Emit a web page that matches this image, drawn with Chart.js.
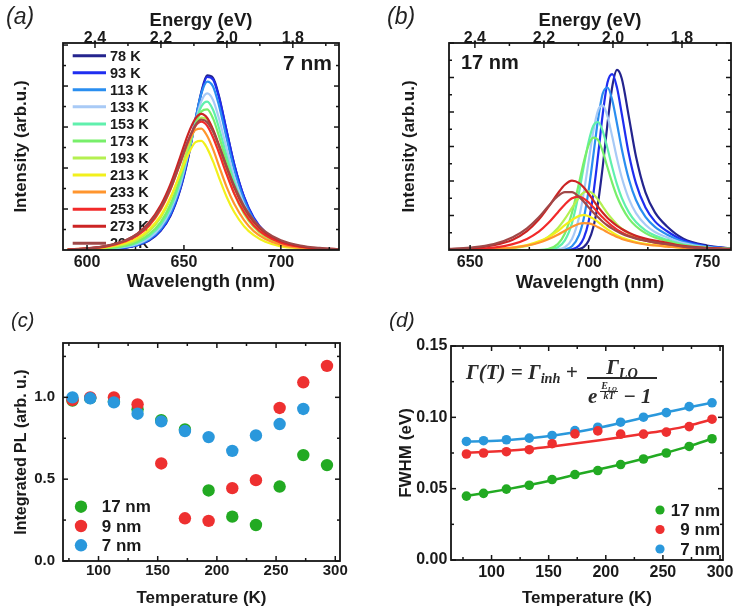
<!DOCTYPE html>
<html><head><meta charset="utf-8">
<script src="https://cdn.jsdelivr.net/npm/chart.js@4.4.1/dist/chart.umd.min.js"></script>
<style>
html,body{margin:0;padding:0;background:#fff;}
body{width:738px;height:616px;position:relative;overflow:hidden;font-family:"Liberation Sans",Arial,sans-serif;}
canvas{position:absolute;}
.pl{position:absolute;font-style:italic;color:#222;line-height:1;white-space:nowrap;}
.ann{position:absolute;font-weight:bold;color:#1a1a1a;line-height:1;white-space:nowrap;}
.fm{position:absolute;font-family:"Liberation Serif","DejaVu Serif",serif;font-weight:bold;font-style:italic;color:#2a2a2a;line-height:1;white-space:nowrap;}
.fm sub{font-size:0.68em;vertical-align:-0.28em;line-height:0;}
</style></head><body>
<canvas id="ca" width="369" height="305" style="left:0;top:0"></canvas>
<canvas id="cb" width="368" height="305" style="left:370px;top:0"></canvas>
<canvas id="cc" width="369" height="306" style="left:0;top:310px"></canvas>
<canvas id="cd" width="368" height="306" style="left:370px;top:310px"></canvas>

<div class="pl" style="left:6px;top:5px;font-size:23px">(a)</div>
<div class="pl" style="left:387px;top:5px;font-size:23px">(b)</div>
<div class="pl" style="left:11px;top:310px;font-size:20px">(c)</div>
<div class="pl" style="left:389px;top:309px;font-size:21px">(d)</div>

<div class="ann" style="left:283px;top:52px;font-size:21px">7 nm</div>
<div class="ann" style="left:461px;top:52px;font-size:20px">17 nm</div>

<div class="fm" style="left:466px;top:361.5px;font-size:21px">Γ(T) = Γ<sub>inh</sub> +</div>
<div class="fm" style="left:587px;top:356.5px;width:70px;text-align:center;font-size:21px">Γ<sub>LO</sub></div>
<div style="position:absolute;left:587px;top:377px;width:70px;height:1.8px;background:#2a2a2a"></div>
<div class="fm" style="left:588px;top:385.5px;font-size:21px">e</div>
<div class="fm" style="left:598px;top:380.5px;width:22px;text-align:center;font-size:10px">E<sub>LO</sub></div>
<div style="position:absolute;left:600px;top:390.5px;width:18px;height:1px;background:#2a2a2a"></div>
<div class="fm" style="left:598px;top:391px;width:22px;text-align:center;font-size:10px">kT</div>
<div class="fm" style="left:623px;top:385.5px;font-size:21px">−&nbsp;1</div>

<script>
// ---------- DATA ----------
const temps = ['78 K','93 K','113 K','133 K','153 K','173 K','193 K','213 K','233 K','253 K','273 K','293 K'];
const tempColors = ['#24248e','#1f2ef0','#2a8ef0','#a8caf6','#60f0ad','#78ef6a','#b4f050','#f2f01c','#ff952e','#f22a2a','#cc2424','#a04848'];

// (a) 7 nm spectra
const wlA = [590,600,610,620,626,632,638,643,648,652,656,659,662,665,668,672,676,681,686,692,700,710,720,730];
const a78  = [0.00,0.01,0.02,0.06,0.12,0.23,0.47,0.83,1.46,2.21,3.19,3.86,4.26,4.20,3.77,2.91,2.08,1.29,0.77,0.42,0.18,0.06,0.02,0.01];
const a93  = [0.00,0.01,0.02,0.06,0.12,0.24,0.48,0.85,1.48,2.22,3.17,3.83,4.22,4.16,3.74,2.91,2.08,1.30,0.79,0.43,0.19,0.07,0.02,0.01];
const a113 = [0.00,0.01,0.02,0.07,0.13,0.26,0.51,0.89,1.53,2.29,3.21,3.82,4.11,3.99,3.54,2.73,1.95,1.22,0.74,0.40,0.18,0.06,0.02,0.01];
const a133 = [0.00,0.01,0.03,0.08,0.15,0.29,0.56,0.96,1.59,2.31,3.13,3.63,3.82,3.66,3.22,2.48,1.77,1.12,0.69,0.38,0.17,0.06,0.02,0.01];
const a153 = [0.00,0.01,0.03,0.10,0.18,0.34,0.62,1.03,1.67,2.36,3.10,3.50,3.62,3.42,2.99,2.29,1.65,1.05,0.65,0.36,0.17,0.06,0.02,0.01];
const a173 = [0.01,0.02,0.04,0.11,0.21,0.38,0.68,1.11,1.75,2.41,3.06,3.38,3.43,3.21,2.79,2.14,1.55,0.99,0.62,0.35,0.16,0.06,0.02,0.01];
const a193 = [0.01,0.02,0.06,0.14,0.25,0.45,0.79,1.24,1.88,2.49,3.03,3.23,3.19,2.92,2.51,1.90,1.37,0.88,0.56,0.32,0.15,0.06,0.02,0.01];
const a213 = [0.01,0.03,0.07,0.17,0.29,0.50,0.84,1.28,1.85,2.31,2.63,2.66,2.48,2.16,1.78,1.30,0.92,0.58,0.36,0.20,0.09,0.04,0.01,0.01];
const a233 = [0.01,0.04,0.08,0.21,0.35,0.59,0.98,1.47,2.10,2.59,2.93,2.96,2.78,2.46,2.06,1.54,1.12,0.73,0.46,0.27,0.13,0.05,0.02,0.01];
const a253 = [0.01,0.04,0.09,0.22,0.36,0.60,1.00,1.48,2.11,2.64,3.03,3.13,3.03,2.75,2.38,1.85,1.37,0.92,0.60,0.36,0.18,0.08,0.03,0.01];
const a273 = [0.01,0.04,0.10,0.24,0.40,0.67,1.09,1.60,2.26,2.81,3.21,3.32,3.22,2.94,2.57,2.02,1.52,1.04,0.69,0.42,0.22,0.09,0.04,0.02];
const a293 = [0.01,0.04,0.10,0.24,0.39,0.64,1.03,1.51,2.13,2.65,3.05,3.18,3.12,2.89,2.55,2.04,1.56,1.07,0.73,0.45,0.24,0.11,0.05,0.02];

// (b) 17 nm spectra
const wlB = [640,650,660,668,674,679,683,687,690,693,696,698,700,702,704,706,708,710,712,714,717,720,724,728,733,740,750,760];
const b78  = [0,0,0,0,0,0,0,0,0,0,0.03,0.09,0.27,0.66,1.37,2.43,3.67,4.74,5.22,4.97,3.86,2.71,1.67,1.09,0.69,0.33,0.13,0.05];
const b93  = [0,0,0,0,0,0,0,0,0,0.02,0.13,0.35,0.82,1.62,2.74,3.95,4.86,5.10,4.70,3.95,2.78,1.93,1.23,0.83,0.55,0.28,0.11,0.04];
const b113 = [0,0,0,0,0,0,0,0,0.02,0.11,0.44,0.93,1.72,2.74,3.79,4.54,4.71,4.34,3.66,2.93,2.05,1.45,0.96,0.67,0.45,0.24,0.10,0.04];
const b133 = [0,0,0,0,0,0,0,0.02,0.08,0.32,0.95,1.67,2.56,3.44,4.05,4.19,3.87,3.28,2.65,2.10,1.48,1.07,0.73,0.52,0.37,0.20,0.08,0.03];
const b153 = [0,0,0,0,0,0,0.01,0.08,0.28,0.78,1.68,2.43,3.13,3.60,3.71,3.44,2.94,2.39,1.90,1.51,1.09,0.81,0.57,0.42,0.30,0.16,0.07,0.03];
const b173 = [0,0,0,0,0,0,0.03,0.17,0.48,1.08,1.95,2.56,3.04,3.26,3.19,2.85,2.39,1.94,1.55,1.25,0.91,0.69,0.49,0.36,0.26,0.14,0.06,0.03];
const b193 = [0.00,0.01,0.02,0.05,0.12,0.23,0.38,0.63,0.90,1.22,1.53,1.67,1.70,1.62,1.46,1.26,1.06,0.89,0.74,0.62,0.48,0.38,0.29,0.22,0.17,0.10,0.05,0.03];
const b213 = [0.00,0.01,0.03,0.07,0.14,0.25,0.37,0.55,0.72,0.87,0.99,1.01,0.98,0.91,0.81,0.70,0.60,0.51,0.43,0.36,0.29,0.23,0.18,0.14,0.11,0.06,0.04,0.02];
const b233 = [0.00,0.01,0.03,0.07,0.13,0.21,0.31,0.44,0.56,0.67,0.76,0.78,0.77,0.73,0.66,0.59,0.51,0.44,0.38,0.32,0.26,0.21,0.16,0.13,0.10,0.06,0.04,0.02];
const b253 = [0.01,0.03,0.07,0.17,0.32,0.53,0.78,1.09,1.32,1.50,1.55,1.49,1.38,1.24,1.09,0.94,0.81,0.69,0.59,0.51,0.41,0.34,0.27,0.21,0.17,0.10,0.05,0.02];
const b273 = [0.02,0.05,0.14,0.30,0.55,0.88,1.24,1.64,1.89,2.01,1.94,1.81,1.63,1.44,1.25,1.08,0.93,0.81,0.70,0.61,0.50,0.41,0.33,0.27,0.21,0.12,0.06,0.03];
const b293 = [0.03,0.07,0.17,0.37,0.63,0.95,1.27,1.56,1.68,1.68,1.54,1.40,1.24,1.09,0.95,0.82,0.71,0.62,0.54,0.47,0.39,0.33,0.27,0.22,0.17,0.10,0.05,0.02];

// (c) integrated PL and (d) FWHM
const tempK = [78,93,113,133,153,173,193,213,233,253,273,293];
const sizes = ['17 nm','9 nm','7 nm'];
const sizeColors = ['#22aa22','#ee3030','#2a98dc'];
const pl17 = [0.98,0.995,0.975,0.927,0.86,0.804,0.431,0.271,0.220,0.455,0.647,0.586];
const pl9  = [0.984,1.0,1.0,0.957,0.596,0.261,0.245,0.445,0.494,0.935,1.092,1.192];
const pl7  = [1.0,0.994,0.969,0.900,0.853,0.794,0.757,0.673,0.767,0.837,0.929,null];
const fwhm17 = [0.0448,0.0467,0.0497,0.0524,0.0564,0.0599,0.0627,0.0669,0.0708,0.0750,0.0796,0.0850];
const fwhm9  = [0.0743,0.0750,0.0759,0.0773,0.0815,0.0884,0.0905,0.0882,0.0882,0.0896,0.0935,0.0987];
const fwhm7  = [0.0831,0.0836,0.0843,0.0854,0.0873,0.0907,0.0931,0.0966,0.1001,0.1033,0.1075,0.1102];
const fit17 = [0.0450,0.0468,0.0495,0.0525,0.0559,0.0597,0.0633,0.0670,0.0710,0.0752,0.0798,0.0850];
const fit9  = [0.0752,0.0757,0.0765,0.0778,0.0796,0.0816,0.0837,0.0860,0.0885,0.0910,0.0942,0.0985];
const fit7  = [0.0830,0.0833,0.0840,0.0853,0.0871,0.0895,0.0925,0.0960,0.0998,0.1036,0.1070,0.1103];

// ticks
const wlTicksA = [600,650,700], wlMinorA = [625,675,725];
const wlTicksB = [650,700,750], wlMinorB = [675,725];
const eTicks = [2.4,2.2,2.0,1.8], eMinor = [2.3,2.1,1.9,1.7];
const intTicksA = [1,2,3,4,5], intMinorA = [0.5,1.5,2.5,3.5,4.5];
const intTicksB = [1,2,3,4,5,6], intMinorB = [0.5,1.5,2.5,3.5,4.5,5.5];
const tTicks = [100,150,200,250,300], tMinor = [75,125,175,225,275];
const plTicks = [0,0.5,1.0], plMinor = [0.25,0.75,1.25];
const fwTicks = [0,0.05,0.10,0.15], fwMinor = [0.025,0.075,0.125];

// ---------- HELPERS ----------
const F = "'Liberation Sans', Arial, sans-serif";
const TXT = '#1a1a1a';
const pts = (xs, ys) => xs.map((x,i)=>({x, y: ys[i]})).filter(p=>p.y!==null);
const setTicks = arr => s => { s.ticks = arr.map(v=>({value:v})); };

function frameTicks(cfg){
  return { id:'frameTicks', afterDatasetsDraw(chart){
    const {ctx, chartArea:a, scales} = chart;
    ctx.save(); ctx.strokeStyle='#151515'; ctx.lineWidth=1.5;
    const seg=(x1,y1,x2,y2)=>{ctx.beginPath();ctx.moveTo(x1,y1);ctx.lineTo(x2,y2);ctx.stroke();};
    const hx=(sc,vals,len,top,bottom)=>vals.forEach(v=>{const p=sc.getPixelForValue(v); if(p<a.left-0.5||p>a.right+0.5)return; if(bottom)seg(p,a.bottom,p,a.bottom-len); if(top)seg(p,a.top,p,a.top+len);});
    const vy=(sc,vals,len,left,right)=>vals.forEach(v=>{const p=sc.getPixelForValue(v); if(p<a.top-0.5||p>a.bottom+0.5)return; if(left)seg(a.left,p,a.left+len,p); if(right)seg(a.right,p,a.right-len,p);});
    hx(scales.x,cfg.xMajor,5,cfg.mirrorX,true); hx(scales.x,cfg.xMinor,3,cfg.mirrorX,true);
    if(cfg.tMajor){hx(scales.x2,cfg.tMajor,5,true,false); hx(scales.x2,cfg.tMinor,3,true,false);}
    vy(scales.y,cfg.yMajor,5,true,true); vy(scales.y,cfg.yMinor,3,true,true);
    ctx.lineWidth=1.8; ctx.strokeRect(a.left,a.top,a.right-a.left,a.bottom-a.top);
    ctx.restore();
  }};
}
function inLegend(cfg){
  const draw = chart => {
    const ctx = chart.ctx; ctx.save();
    ctx.font = cfg.font; ctx.textBaseline='middle';
    cfg.labels.forEach((lab,i)=>{
      const y = cfg.y + i*cfg.dy;
      if(cfg.kind==='line'){ctx.strokeStyle=cfg.colors[i];ctx.lineWidth=3;ctx.beginPath();ctx.moveTo(cfg.x,y);ctx.lineTo(cfg.x+cfg.len,y);ctx.stroke();}
      else {ctx.fillStyle=cfg.colors[i];ctx.beginPath();ctx.arc(cfg.x,y,cfg.r,0,Math.PI*2);ctx.fill();}
      ctx.fillStyle=TXT; ctx.textAlign=cfg.align; ctx.fillText(lab,cfg.tx,y+1);
    });
    ctx.restore();
  };
  return { id:'inLegend', beforeDatasetsDraw(chart){ if(cfg.before) draw(chart); }, afterDatasetsDraw(chart){ if(!cfg.before) draw(chart); } };
}
const base = { responsive:false, animation:false, events:[], plugins:{legend:{display:false}, tooltip:{enabled:false}} };
const noGrid = {display:false, drawTicks:false};
const tickFont = s => ({family:F, size:s, weight:'bold'});

function spectraChart(id, wl, series, xr, er, ymax, xt, xm, yt, ym, L, R, ytitlePad, bottomPad, topTitlePad, legend){
  const datasets = series.map((arr,i)=>({
    label: temps[i], data: pts(wl, arr), borderColor: tempColors[i], borderWidth: 2.2,
    pointRadius: 0, fill: false, cubicInterpolationMode: 'monotone', order: series.length-1-i
  }));
  const plugins = [frameTicks({xMajor:xt,xMinor:xm,tMajor:eTicks,tMinor:eMinor,yMajor:yt,yMinor:ym,mirrorX:false})];
  if(legend) plugins.push(legend);
  return new Chart(document.getElementById(id), {
    type:'line', data:{datasets}, plugins,
    options:{...base, layout:{padding:{left:0,top:0,bottom:0,right:R}},
      scales:{
        x:{type:'linear', position:'bottom', min:xr[0], max:xr[1], afterFit:s=>{s.height=55}, afterBuildTicks:setTicks(xt),
           grid:noGrid, border:{display:false}, ticks:{padding:3.4, font:tickFont(16), color:TXT, maxRotation:0, autoSkip:false},
           title:{display:true, text:'Wavelength (nm)', color:TXT, font:{family:F,size:18.5,weight:'bold'}, padding:{top:0,bottom:bottomPad}}},
        x2:{type:'linear', position:'top', reverse:true, min:er[0], max:er[1], afterFit:s=>{s.height=43}, afterBuildTicks:setTicks(eTicks),
           grid:noGrid, border:{display:false}, ticks:{padding:-5, font:tickFont(16), color:TXT, maxRotation:0, autoSkip:false, callback:v=>v.toFixed(1)},
           title:{display:true, text:'Energy (eV)', color:TXT, font:{family:F,size:18.5,weight:'bold'}, padding:{top:topTitlePad,bottom:0}}},
        y:{type:'linear', min:0, max:ymax, afterFit:s=>{s.width=L}, grid:noGrid, border:{display:false}, ticks:{display:false},
           title:{display:true, text:'Intensity (arb.u.)', color:TXT, font:{family:F,size:17,weight:'bold'}, padding:{top:ytitlePad,bottom:0}}}
      }}
  });
}

// ---------- (a) ----------
spectraChart('ca', wlA, [a78,a93,a113,a133,a153,a173,a193,a213,a233,a253,a273,a293],
  [587.6,730], [1.66,2.497], 5.05, wlTicksA, wlMinorA, intTicksA, intMinorA, 63, 30, 11, 12, 10,
  inLegend({before:true, kind:'line', labels:temps, colors:tempColors, x:72.7, len:33.3, tx:110, y:55.7, dy:17.05, font:"bold 14.5px "+F, align:'left'}));

// ---------- (b) ----------
spectraChart('cb', wlB, [b78,b93,b113,b133,b153,b173,b193,b213,b233,b253,b273,b293],
  [641.1,760.1], [1.658,2.475], 6.0, wlTicksB, wlMinorB, intTicksB, intMinorB, 79, 7, 29, 11, 10, null);

// ---------- (c) ----------
new Chart(document.getElementById('cc'), {
  type:'scatter',
  data:{datasets:[pl17,pl9,pl7].map((arr,i)=>({label:sizes[i], data:pts(tempK,arr), pointRadius:6.2, pointBackgroundColor:sizeColors[i], pointBorderWidth:0, order:3-i}))},
  plugins:[frameTicks({xMajor:tTicks,xMinor:tMinor,yMajor:plTicks,yMinor:plMinor,mirrorX:true}),
           inLegend({kind:'dot', labels:sizes, colors:sizeColors, x:81, r:6.2, tx:101.7, y:196.7, dy:19.3, font:"bold 17px "+F, align:'left'})],
  options:{...base, layout:{padding:{left:0,top:33,bottom:0,right:29}},
    scales:{
      x:{type:'linear', min:70, max:304, afterFit:s=>{s.height=55}, afterBuildTicks:setTicks(tTicks), grid:noGrid, border:{display:false},
         ticks:{padding:1, font:tickFont(15), color:TXT, maxRotation:0, autoSkip:false},
         title:{display:true, text:'Temperature (K)', color:TXT, font:{family:F,size:17,weight:'bold'}, padding:{top:0,bottom:7}}},
      y:{type:'linear', min:0, max:1.332, afterFit:s=>{s.width=63}, afterBuildTicks:setTicks(plTicks), grid:noGrid, border:{display:false},
         ticks:{padding:8, font:tickFont(15), color:TXT, callback:v=>v.toFixed(1)},
         title:{display:true, text:'Integrated PL (arb. u.)', color:TXT, font:{family:F,size:16,weight:'bold'}, padding:{top:11.5,bottom:0}}}
    }}
});

// ---------- (d) ----------
const fitSets = [fit17,fit9,fit7].map((arr,i)=>({label:sizes[i]+' fit', data:pts(tempK,arr), showLine:true, borderColor:sizeColors[i], borderWidth:2.5, pointRadius:0, cubicInterpolationMode:'monotone', order:10+i}));
const ptSets = [fwhm17,fwhm9,fwhm7].map((arr,i)=>({label:sizes[i], data:pts(tempK,arr), pointRadius:4.8, pointBackgroundColor:sizeColors[i], pointBorderWidth:0, order:[3,1,2][i]}));
new Chart(document.getElementById('cd'), {
  type:'scatter',
  data:{datasets:[...ptSets, ...fitSets]},
  plugins:[frameTicks({xMajor:tTicks,xMinor:tMinor,yMajor:fwTicks,yMinor:fwMinor,mirrorX:true}),
           inLegend({kind:'dot', labels:sizes, colors:sizeColors, x:290, r:4.6, tx:350, y:200, dy:19.5, font:"bold 17px "+F, align:'right'})],
  options:{...base, layout:{padding:{left:0,top:36,bottom:0,right:15}},
    scales:{
      x:{type:'linear', min:64.5, max:302.6, afterFit:s=>{s.height=56}, afterBuildTicks:setTicks(tTicks), grid:noGrid, border:{display:false},
         ticks:{padding:3.4, font:tickFont(16), color:TXT, maxRotation:0, autoSkip:false},
         title:{display:true, text:'Temperature (K)', color:TXT, font:{family:F,size:17,weight:'bold'}, padding:{top:0,bottom:7}}},
      y:{type:'linear', min:0, max:0.15, afterFit:s=>{s.width=81}, afterBuildTicks:setTicks(fwTicks), grid:noGrid, border:{display:false},
         ticks:{padding:3.7, font:tickFont(16), color:TXT, callback:v=>v.toFixed(2)},
         title:{display:true, text:'FWHM (eV)', color:TXT, font:{family:F,size:17,weight:'bold'}, padding:{top:26.5,bottom:0}}}
    }}
});
</script>
</body></html>
